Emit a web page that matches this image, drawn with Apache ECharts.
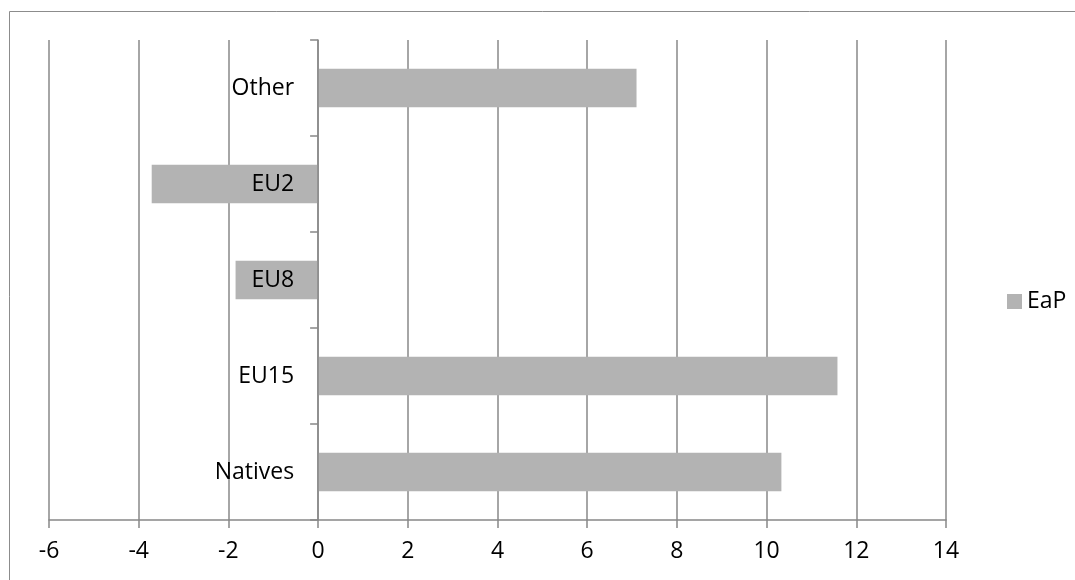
<!DOCTYPE html>
<html>
<head>
<meta charset="utf-8">
<script src="https://cdn.jsdelivr.net/npm/echarts@6/dist/echarts.min.js"></script>
<style>
html,body{margin:0;padding:0;background:#fff;}
#chart{width:1075px;height:580px;}
</style>
</head>
<body>
<div id="chart"></div>
<script>
const categories = ['Natives', 'EU15', 'EU8', 'EU2', 'Other'];
const seriesName = 'EaP';
const values = [10.33, 11.58, -1.84, -3.71, 7.1];
const xMin = -6, xMax = 14, xInterval = 2;

const FONT = '"Open Sans", "Liberation Sans", sans-serif';
const FS = 23;
const GRID_LEFT = 49;
const chart = echarts.init(document.getElementById('chart'), null, {renderer: 'canvas'});
const option = {
  animation: false,
  backgroundColor: '#ffffff',
  textStyle: {fontFamily: FONT},
  graphic: [{
    type: 'rect',
    shape: {x: 9.5, y: 11.5, width: 1100, height: 620},
    style: {fill: 'none', stroke: '#8c8c8c', lineWidth: 1},
    silent: true, z: -10
  }],
  grid: {left: GRID_LEFT, right: 129, top: 40, bottom: 60, containLabel: false, outerBoundsMode: 'none'},
  legend: {
    data: [seriesName],
    left: 1002, top: 285,
    icon: 'rect', itemWidth: 15, itemHeight: 15, itemGap: 10,
    textStyle: {fontFamily: FONT, fontSize: FS, color: '#000'}
  },
  xAxis: {
    type: 'value', min: xMin, max: xMax, interval: xInterval,
    axisLine: {show: true, lineStyle: {color: '#888', width: 1.5}},
    axisTick: {show: true, length: 8, lineStyle: {color: '#888', width: 1.5}},
    axisLabel: {fontFamily: FONT, fontSize: FS, color: '#000', margin: 20},
    splitLine: {show: true, lineStyle: {color: '#888', width: 1.5}}
  },
  yAxis: {
    type: 'category', data: categories,
    offset: 0, z: 5,
    axisLine: {show: true, onZero: false, lineStyle: {color: '#888', width: 1.5}},
    axisTick: {show: true, length: 8, lineStyle: {color: '#888', width: 1.5}},
    axisLabel: {fontFamily: FONT, fontSize: FS, color: '#000', margin: 24},
    splitLine: {show: false}
  },
  series: [{
    name: seriesName, type: 'bar', data: values, barWidth: '40%',
    z: 2,
    itemStyle: {color: '#b3b3b3'}
  }]
};
chart.setOption(option);
// place the category axis at x = 0 of the value axis
const zeroPx = chart.convertToPixel({xAxisIndex: 0}, 0);
chart.setOption({yAxis: {offset: -(zeroPx - GRID_LEFT)}});
</script>
</body>
</html>
